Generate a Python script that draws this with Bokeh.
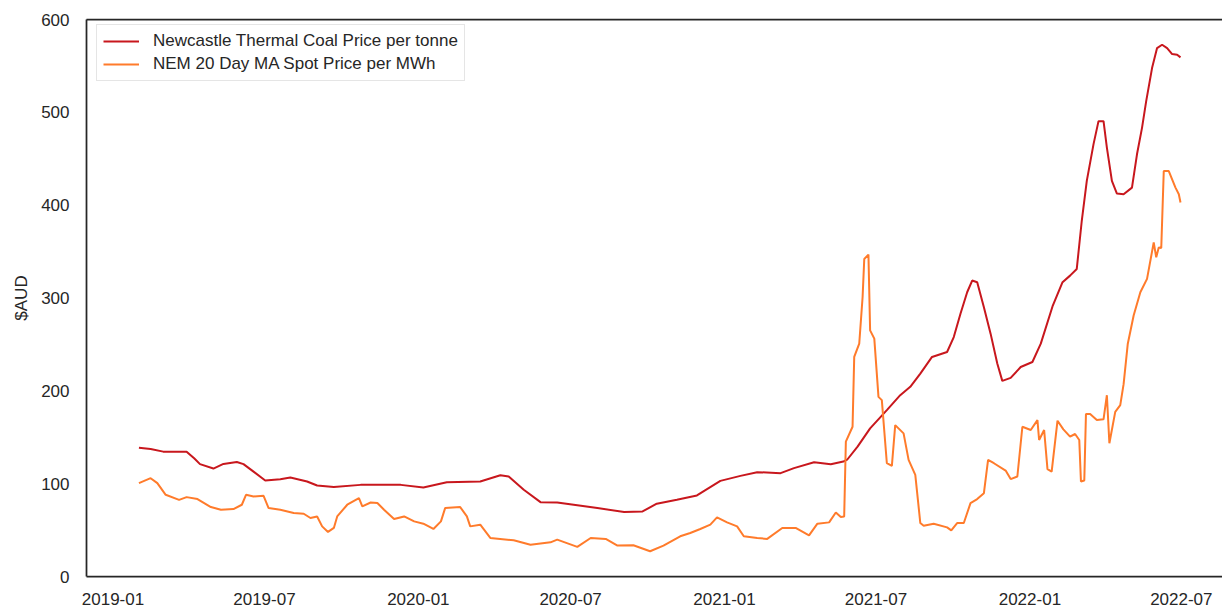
import pandas as pd
from bokeh.plotting import figure
from bokeh.models import (Range1d, LinearAxis, FixedTicker, MonthsTicker,
                          DatetimeTickFormatter, SingleIntervalTicker, Legend, LegendItem)
from bokeh.embed import file_html
from bokeh.resources import INLINE

# ---------------- data ----------------
coal_dates = [
    "2019-02-01", "2019-02-15", "2019-03-02", "2019-03-30", "2019-04-08", "2019-04-15",
    "2019-05-01", "2019-05-13", "2019-05-29", "2019-06-06", "2019-06-18", "2019-07-02",
    "2019-07-20", "2019-08-01", "2019-08-21", "2019-09-02", "2019-09-22", "2019-10-24",
    "2019-12-11", "2020-01-07", "2020-02-04", "2020-03-15", "2020-04-08", "2020-04-18",
    "2020-05-06", "2020-05-26", "2020-06-15", "2020-08-02", "2020-09-03", "2020-09-25",
    "2020-10-12", "2020-11-05", "2020-11-29", "2020-12-27", "2021-01-20", "2021-02-09",
    "2021-03-09", "2021-03-25", "2021-04-18", "2021-05-08", "2021-05-23", "2021-05-28",
    "2021-06-09", "2021-06-24", "2021-07-14", "2021-07-30", "2021-08-11", "2021-08-23",
    "2021-09-06", "2021-09-24", "2021-10-02", "2021-10-10", "2021-10-18", "2021-10-24",
    "2021-10-30", "2021-11-07", "2021-11-15", "2021-11-23", "2021-11-29", "2021-12-09",
    "2021-12-21", "2022-01-04", "2022-01-14", "2022-01-28", "2022-02-09", "2022-02-18",
    "2022-02-26", "2022-03-04", "2022-03-10", "2022-03-18", "2022-03-24", "2022-03-30",
    "2022-04-03", "2022-04-09", "2022-04-15", "2022-04-23", "2022-05-03", "2022-05-09",
    "2022-05-15", "2022-05-20", "2022-05-27", "2022-06-02", "2022-06-08", "2022-06-14",
    "2022-06-20", "2022-06-26", "2022-06-30",
]
coal_prices = [
    138.8, 137.4, 134.5, 134.5, 127.4, 121.0,
    116.3, 121.3, 123.4, 121.0, 113.0, 103.4,
    104.8, 106.6, 102.3, 98.0, 96.3, 98.7,
    98.7, 95.9, 101.6, 102.3, 109.1, 107.7,
    93.4, 80.1, 79.7, 73.7, 69.4, 70.1,
    78.4, 82.6, 87.3, 103.0, 108.4, 112.4,
    111.3, 116.7, 123.1, 121.0, 123.8, 126.3,
    139.9, 159.6, 179.2, 195.3, 204.3, 218.6,
    236.5, 241.8, 257.9, 283.0, 306.2, 318.8,
    317.0, 290.1, 261.6, 229.4, 210.7, 213.9,
    225.7, 231.1, 250.8, 290.9, 317.0, 324.1,
    331.3, 383.2, 426.1, 465.5, 490.5, 490.5,
    461.9, 426.1, 412.5, 411.8, 418.9, 454.8,
    483.3, 512.0, 547.7, 569.2, 572.8, 569.2,
    562.8, 562.1, 559.2,
]

nem_dates = [
    "2019-02-01", "2019-02-15", "2019-02-23", "2019-03-05", "2019-03-21", "2019-03-30",
    "2019-04-12", "2019-04-28", "2019-05-10", "2019-05-25", "2019-06-04", "2019-06-09",
    "2019-06-18", "2019-06-30", "2019-07-06", "2019-07-20", "2019-08-05", "2019-08-17",
    "2019-08-25", "2019-09-02", "2019-09-08", "2019-09-15", "2019-09-22", "2019-09-26",
    "2019-10-08", "2019-10-22", "2019-10-26", "2019-11-05", "2019-11-13", "2019-11-21",
    "2019-12-03", "2019-12-15", "2019-12-27", "2020-01-07", "2020-01-19", "2020-01-28",
    "2020-02-02", "2020-02-20", "2020-02-28", "2020-03-03", "2020-03-15", "2020-03-27",
    "2020-04-24", "2020-05-14", "2020-06-07", "2020-06-15", "2020-07-09", "2020-07-25",
    "2020-08-12", "2020-08-26", "2020-09-14", "2020-10-04", "2020-10-20", "2020-11-09",
    "2020-11-21", "2020-12-03", "2020-12-15", "2020-12-23", "2021-01-04", "2021-01-16",
    "2021-01-24", "2021-02-09", "2021-02-21", "2021-03-11", "2021-03-27", "2021-04-12",
    "2021-04-22", "2021-05-06", "2021-05-14", "2021-05-20", "2021-05-24", "2021-05-26",
    "2021-06-03", "2021-06-05", "2021-06-11", "2021-06-15", "2021-06-17", "2021-06-22",
    "2021-06-24", "2021-06-29", "2021-07-04", "2021-07-08", "2021-07-14", "2021-07-20",
    "2021-07-24", "2021-08-03", "2021-08-09", "2021-08-17", "2021-08-23", "2021-08-27",
    "2021-09-08", "2021-09-24", "2021-09-29", "2021-10-06", "2021-10-14", "2021-10-22",
    "2021-10-30", "2021-11-07", "2021-11-12", "2021-11-19", "2021-12-03", "2021-12-09",
    "2021-12-17", "2021-12-23", "2022-01-02", "2022-01-10", "2022-01-12", "2022-01-18",
    "2022-01-22", "2022-01-27", "2022-02-03", "2022-02-10", "2022-02-18", "2022-02-24",
    "2022-03-01", "2022-03-03", "2022-03-07", "2022-03-09", "2022-03-14", "2022-03-22",
    "2022-03-30", "2022-04-03", "2022-04-06", "2022-04-13", "2022-04-19", "2022-04-23",
    "2022-04-28", "2022-05-05", "2022-05-13", "2022-05-21", "2022-05-29", "2022-06-01",
    "2022-06-04", "2022-06-07", "2022-06-10", "2022-06-16", "2022-06-24", "2022-06-28",
    "2022-06-30",
]
nem_prices = [
    100.6, 105.9, 100.6, 88.0, 82.6, 85.5,
    83.4, 74.8, 71.9, 72.6, 77.3, 88.0,
    86.2, 86.9, 73.7, 71.9, 68.4, 67.6,
    63.0, 64.7, 54.0, 48.0, 52.3, 64.7,
    77.3, 84.5, 75.5, 79.7, 79.1, 71.9,
    61.9, 64.7, 59.4, 56.9, 51.2, 59.4,
    73.7, 74.8, 64.7, 54.0, 55.8, 41.5,
    39.0, 34.3, 36.8, 39.7, 31.9, 41.5,
    40.5, 33.3, 33.6, 27.2, 33.3, 43.3,
    46.9, 51.2, 55.8, 63.7, 58.3, 54.0,
    43.3, 41.5, 40.5, 52.3, 52.3, 44.3,
    56.9, 58.3, 69.0, 64.1, 64.7, 145.2,
    161.3, 236.5, 250.8, 300.8, 342.0, 346.7,
    265.1, 256.2, 193.5, 190.0, 122.0, 119.1,
    163.1, 154.2, 125.6, 109.5, 57.6, 54.7,
    56.9, 52.9, 49.7, 57.6, 57.6, 79.1,
    83.4, 89.8, 125.6, 122.0, 114.1, 104.9,
    107.7, 161.3, 157.8, 168.5, 147.0, 157.8,
    115.6, 113.0, 167.8, 158.5, 150.6, 153.5,
    147.0, 102.3, 103.4, 175.0, 175.0, 168.5,
    169.3, 195.3, 143.5, 177.4, 184.6, 207.2,
    250.8, 281.2, 306.2, 320.6, 359.9, 343.8,
    354.5, 353.9, 436.8, 436.8, 418.9, 411.8,
    402.8,
]

series_labels = ["Newcastle Thermal Coal Price per tonne", "NEM 20 Day MA Spot Price per MWh"]
y_tick_step = 100
y_label = "$AUD"

# ---------------- figure ----------------
FONT = "Liberation Sans"
TEXT = "#262626"
SPINE = "#262626"

p = figure(
    width=1222, height=607,
    x_axis_type="datetime",
    x_range=Range1d(pd.Timestamp("2018-11-30 08:00"), pd.Timestamp("2022-08-19 05:00")),
    y_range=Range1d(0, 600),
    output_backend="svg", toolbar_location=None,
    min_border_left=86, min_border_right=0, min_border_top=19, min_border_bottom=31,
)
p.outline_line_color = None
p.grid.visible = False
p.background_fill_color = "white"
p.border_fill_color = "white"

r_coal = p.line(pd.to_datetime(coal_dates), coal_prices, line_color="#c8171d", line_width=2)
r_nem = p.line(pd.to_datetime(nem_dates), nem_prices, line_color="#ff7b2b", line_width=2)

# axes
for ax in (p.xaxis[0], p.yaxis[0]):
    ax.axis_line_color = SPINE
    ax.axis_line_width = 1.75
    ax.major_tick_line_color = None
    ax.minor_tick_line_color = None
    ax.major_tick_out = 0
    ax.major_tick_in = 0
    ax.major_label_text_font = FONT
    ax.major_label_text_font_size = "17px"
    ax.major_label_text_color = TEXT

p.xaxis.ticker = MonthsTicker(months=[0, 6])
p.xaxis.formatter = DatetimeTickFormatter(months="%Y-%m", years="%Y-%m", days="%Y-%m")
p.xaxis.major_label_standoff = 16

p.yaxis.ticker = SingleIntervalTicker(interval=y_tick_step)
p.yaxis.major_label_standoff = 13
p.yaxis.axis_label = y_label
p.yaxis.axis_label_text_font = FONT
p.yaxis.axis_label_text_font_size = "17px"
p.yaxis.axis_label_text_font_style = "normal"
p.yaxis.axis_label_text_color = TEXT
p.yaxis.axis_label_standoff = 7

top = LinearAxis(ticker=FixedTicker(ticks=[]), axis_line_color=SPINE, axis_line_width=1.75,
                 major_tick_line_color=None, minor_tick_line_color=None,
                 major_label_text_font_size="0px")
p.add_layout(top, "above")

legend = Legend(
    items=[LegendItem(label=series_labels[0], renderers=[r_coal]),
           LegendItem(label=series_labels[1], renderers=[r_nem])],
    location=(10, 495),
    label_text_font=FONT, label_text_font_size="17px", label_text_color=TEXT,
    glyph_width=36, glyph_height=20, label_standoff=14, spacing=3,
    padding=6, margin=0,
    border_line_color="#cccccc", border_line_width=1,
    background_fill_color="white", background_fill_alpha=0.8,
)
p.add_layout(legend)

open("out.html", "w").write(file_html(p, INLINE))
